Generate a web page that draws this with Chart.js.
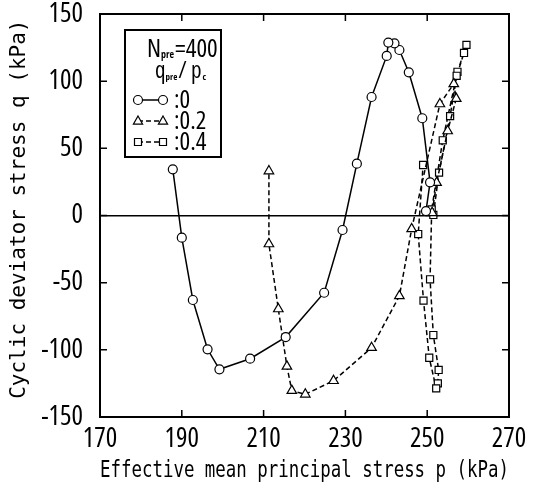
<!DOCTYPE html>
<html>
<head>
<meta charset="utf-8">
<script src="https://cdn.jsdelivr.net/npm/chart.js@4.4.1/dist/chart.umd.min.js"></script>
<style>
  html, body { margin: 0; padding: 0; background: #fff; }
  #wrap { width: 540px; height: 490px; }
</style>
</head>
<body>
<div id="wrap"><canvas id="stressPath"></canvas></div>
<script>
// stress paths, q_pre/p_c = 0, 0.2, 0.4
const pCirc = [249.7, 250.7, 248.8, 245.5, 243.2, 242.0, 240.5, 240.1, 236.4, 232.8, 229.3, 224.8, 215.4, 206.7, 199.2, 196.3, 192.7, 190.0, 187.8];
const qCirc = [3.3, 24.7, 72.4, 106.6, 123.2, 128.2, 128.7, 118.8, 88.2, 38.6, -10.8, -57.5, -90.5, -106.6, -114.5, -99.6, -62.9, -16.5, 34.4];

const pTri = [251.2, 252.3, 255.0, 257.1, 256.5, 253.1, 246.2, 243.2, 236.4, 227.1, 220.2, 216.9, 215.7, 213.6, 211.3, 211.3];
const qTri = [2.0, 24.4, 62.9, 87.0, 98.0, 83.0, -10.0, -59.9, -98.4, -123.0, -133.1, -130.4, -112.3, -69.6, -21.2, 33.1];

const pSq = [251.5, 252.9, 255.6, 257.4, 259.6, 259.0, 257.2, 253.8, 251.1, 250.7, 251.5, 252.8, 252.6, 252.2, 250.5, 249.1, 247.8, 249.0];
const qSq = [0.4, 31.9, 74.0, 107.0, 127.0, 121.0, 104.0, 56.0, 4.6, -47.5, -89.0, -115.0, -125.0, -128.7, -105.9, -63.4, -13.8, 37.6];

const seriesLabels = [":0", ":0.2", ":0.4"];
const xTicks = [170, 190, 210, 230, 250, 270];
const yTicks = [-150, -100, -50, 0, 50, 100, 150];

// "condensed" goes in the weight slot so the Open Sans condensed face is picked
const narrow = "'Open Sans', 'Roboto Condensed', sans-serif";
const mono = "'DejaVu Sans Mono', 'Liberation Mono', monospace";

function toPoints(ps, qs) {
  return ps.map((p, i) => ({ x: p, y: qs[i] }));
}

// inward ticks on all four sides + frame
const framePlugin = {
  id: "frame",
  afterDatasetsDraw(chart) {
    const { ctx, chartArea: a, scales } = chart;
    ctx.save();
    ctx.strokeStyle = "#000";
    ctx.lineWidth = 1.5;
    ctx.beginPath();
    xTicks.forEach((v) => {
      const x = scales.x.getPixelForValue(v);
      ctx.moveTo(x, a.bottom); ctx.lineTo(x, a.bottom - 7);
      ctx.moveTo(x, a.top); ctx.lineTo(x, a.top + 7);
    });
    yTicks.forEach((v) => {
      const y = scales.y.getPixelForValue(v);
      ctx.moveTo(a.left, y); ctx.lineTo(a.left + 7, y);
      ctx.moveTo(a.right, y); ctx.lineTo(a.right - 7, y);
    });
    ctx.stroke();
    ctx.lineWidth = 2;
    ctx.strokeRect(a.left, a.top, a.right - a.left, a.bottom - a.top);
    ctx.restore();
  }
};

function marker(ctx, style, x, y) {
  ctx.beginPath();
  if (style === "circle") {
    ctx.arc(x, y, 4.5, 0, Math.PI * 2);
  } else if (style === "triangle") {
    ctx.moveTo(x, y - 5);
    ctx.lineTo(x + 4.6, y + 3.2);
    ctx.lineTo(x - 4.6, y + 3.2);
    ctx.closePath();
  } else {
    ctx.rect(x - 3.5, y - 3.5, 7, 7);
  }
  ctx.fillStyle = "#fff";
  ctx.fill();
  ctx.stroke();
}

// boxed legend in the upper left
const legendBox = {
  id: "legendBox",
  afterDraw(chart) {
    const ctx = chart.ctx;
    ctx.save();
    ctx.fillStyle = "#fff";
    ctx.fillRect(125, 30, 96, 127);
    ctx.strokeStyle = "#000";
    ctx.lineWidth = 2;
    ctx.strokeRect(125, 30, 96, 127);

    ctx.fillStyle = "#000";
    ctx.textBaseline = "alphabetic";
    ctx.font = "condensed 25px " + narrow;
    ctx.fillText("N", 147, 57);
    let w = ctx.measureText("N").width;
    ctx.font = "condensed bold 10px " + narrow;
    ctx.fillText("pre", 147 + w, 58);
    let w2 = ctx.measureText("pre").width;
    ctx.font = "condensed 25px " + narrow;
    ctx.fillText("=400", 147 + w + w2 + 1, 57);

    ctx.font = "condensed 23px " + narrow;
    ctx.fillText("q", 155, 78);
    w = ctx.measureText("q").width;
    ctx.font = "condensed bold 9px " + narrow;
    ctx.fillText("pre", 155 + w, 80);
    w2 = ctx.measureText("pre").width;
    ctx.font = "condensed 23px " + narrow;
    ctx.fillText("/ p", 155 + w + w2 + 1, 78);
    const w3 = ctx.measureText("/ p").width;
    ctx.font = "condensed bold 9px " + narrow;
    ctx.fillText("c", 155 + w + w2 + 2 + w3, 80);

    const rows = [100, 121, 142];
    chart.data.datasets.forEach((ds, i) => {
      const y = rows[i];
      ctx.strokeStyle = "#000";
      ctx.lineWidth = 1.5;
      ctx.setLineDash(ds.borderDash || []);
      ctx.beginPath();
      ctx.moveTo(138, y); ctx.lineTo(163, y);
      ctx.stroke();
      ctx.setLineDash([]);
      ctx.lineWidth = 1.2;
      marker(ctx, ds.pointStyle, 138, y);
      marker(ctx, ds.pointStyle, 163, y);
      ctx.fillStyle = "#000";
      ctx.font = "condensed 25px " + narrow;
      ctx.textBaseline = "middle";
      ctx.fillText(ds.label, 174, y + 1);
    });
    ctx.restore();
  }
};

const common = {
  showLine: true,
  borderColor: "#000",
  borderWidth: 1.5,
  pointBackgroundColor: "#fff",
  pointBorderColor: "#000",
  pointBorderWidth: 1.2
};

new Chart(document.getElementById("stressPath"), {
  type: "scatter",
  data: {
    datasets: [
      { ...common, label: seriesLabels[0], data: toPoints(pCirc, qCirc), pointStyle: "circle", pointRadius: 4.5 },
      { ...common, label: seriesLabels[1], data: toPoints(pTri, qTri), pointStyle: "triangle", pointRadius: 5.5, borderDash: [5, 3] },
      { ...common, label: seriesLabels[2], data: toPoints(pSq, qSq), pointStyle: "rect", pointRadius: 5, borderDash: [5, 3] }
    ]
  },
  options: {
    responsive: true,
    maintainAspectRatio: false,
    animation: false,
    layout: { padding: { top: 14, right: 31, bottom: 0, left: 0 } },
    plugins: { legend: { display: false }, tooltip: { enabled: false } },
    scales: {
      x: {
        type: "linear",
        min: 170,
        max: 270,
        afterBuildTicks: (s) => { s.ticks = xTicks.map((v) => ({ value: v })); },
        afterFit: (s) => { s.height = 73; s.paddingLeft = 0; s.paddingRight = 0; },
        grid: { display: false, drawTicks: false },
        border: { display: false },
        ticks: { color: "#000", padding: 6, font: { family: narrow, weight: "condensed", size: 27 } },
        title: {
          display: true,
          text: "Effective mean principal stress p (kPa)",
          color: "#000",
          font: { family: mono, size: 23 },
          padding: { top: 0, bottom: 5 }
        }
      },
      y: {
        type: "linear",
        min: -150,
        max: 150,
        afterBuildTicks: (s) => { s.ticks = yTicks.map((v) => ({ value: v })); },
        afterFit: (s) => { s.width = 100; s.paddingTop = 0; s.paddingBottom = 0; },
        grid: {
          drawTicks: false,
          lineWidth: 1.5,
          color: (c) => (c.tick && c.tick.value === 0 ? "#000" : "rgba(0,0,0,0)")
        },
        border: { display: false },
        ticks: { color: "#000", padding: 17, font: { family: narrow, weight: "condensed", size: 27 } },
        title: {
          display: true,
          text: " Cyclic deviator stress q (kPa)",
          color: "#000",
          font: { family: mono, size: 21 },
          padding: { top: 7, bottom: 0 }
        }
      }
    }
  },
  plugins: [framePlugin, legendBox]
});
</script>
</body>
</html>
